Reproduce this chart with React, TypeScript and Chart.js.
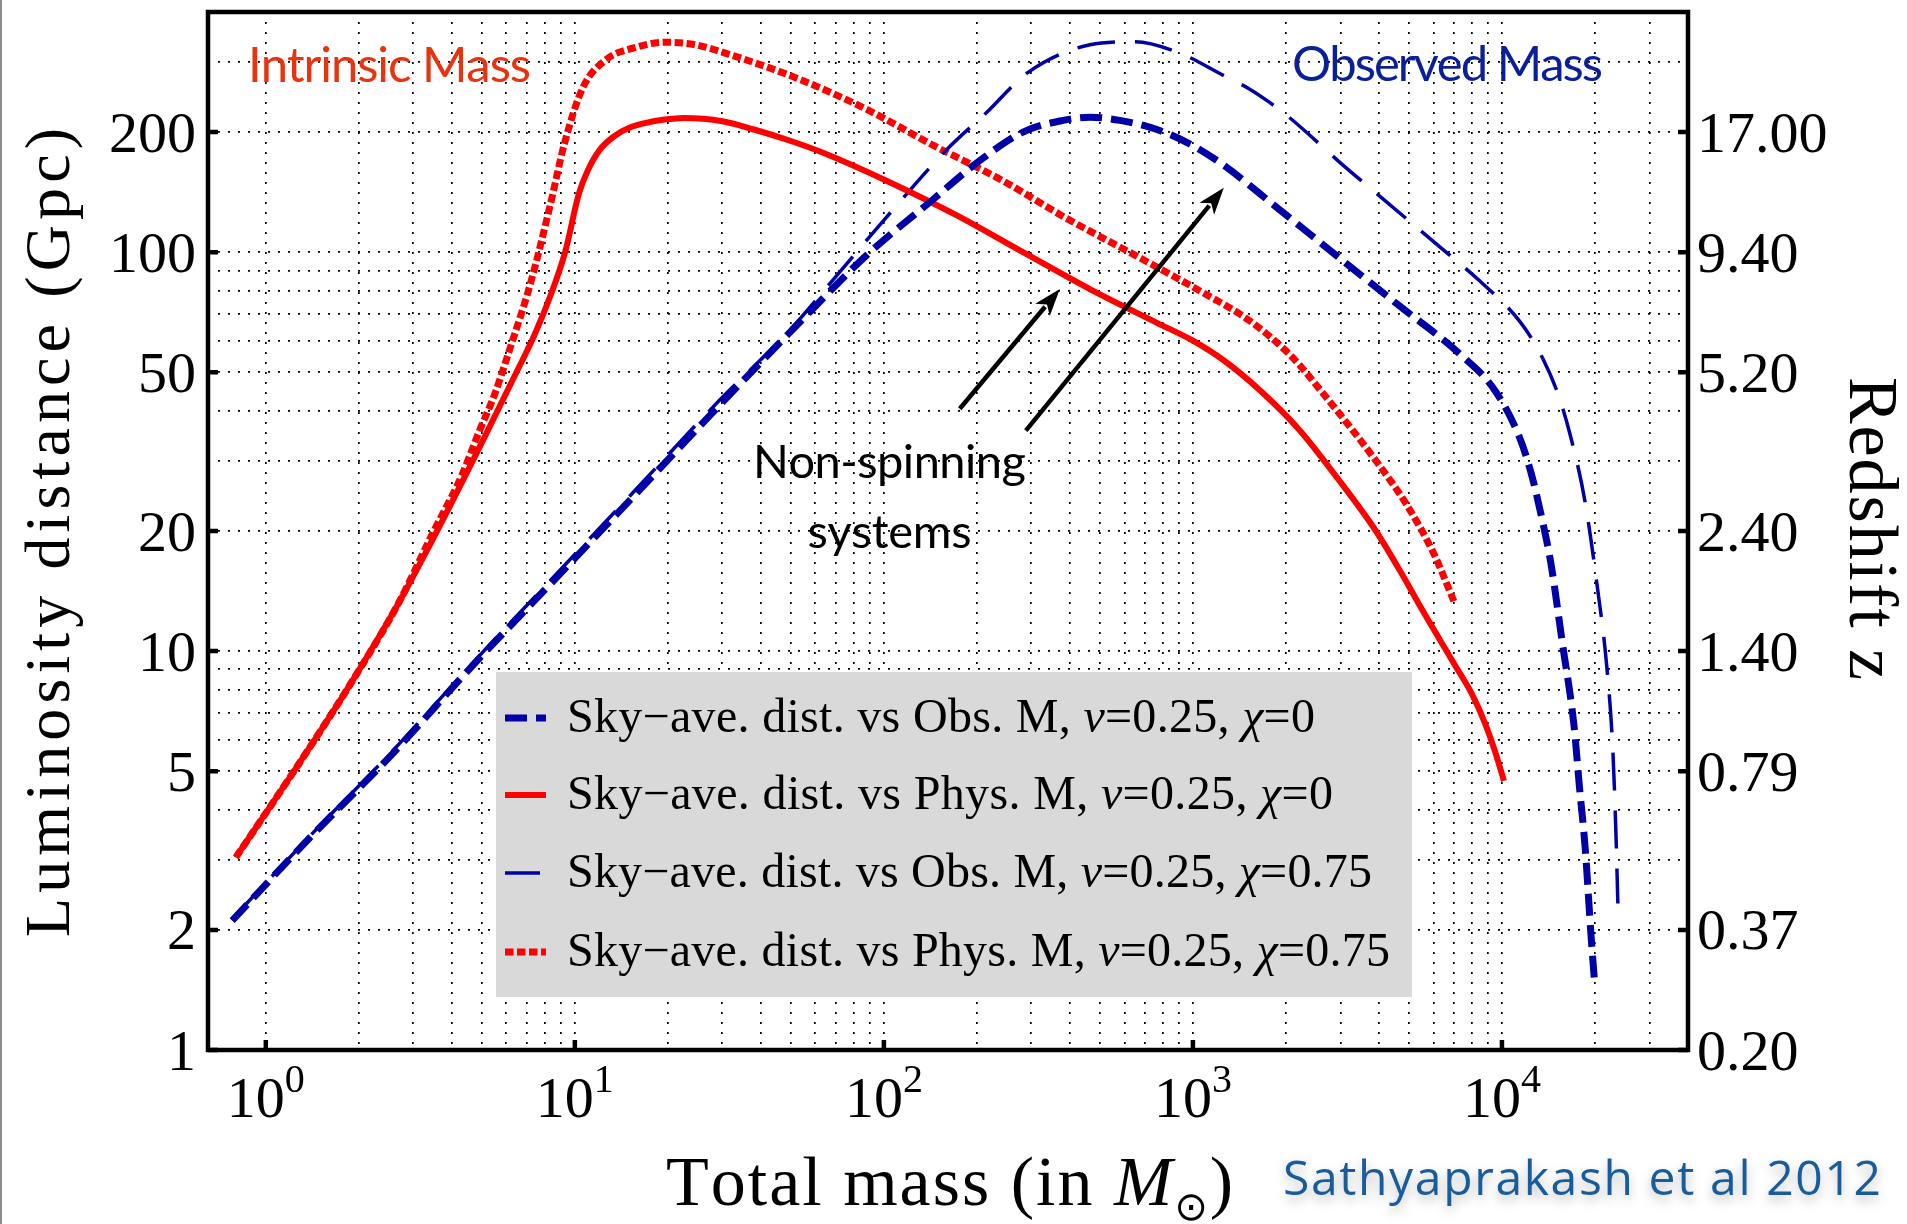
import React, { useEffect, useRef } from "react";
import { Chart, registerables } from "chart.js";

Chart.register(...registerables);

// Sky-averaged luminosity distance (Gpc) against total mass (solar masses), nu = 0.25
// chi = 0, observed (redshifted) mass
const obsMassNonSpin = [0.778, 1.38, 2.56, 4.65, 8.24, 15.3, 28.5, 53.5, 88, 145, 201, 282, 380, 464, 580, 765, 1000, 1260, 1855, 2918, 4590, 7220, 9490, 11370, 12420, 13650, 14420, 15650, 17110, 17800, 18600, 19400, 19950];
const distObsNonSpin = [2.11, 3.39, 5.51, 9.17, 14.6, 24.2, 40.3, 66.8, 98.3, 136, 168, 200, 214, 218, 214, 203, 185, 165, 130, 98, 74, 56, 45, 34.5, 28, 20.5, 16.5, 10.6, 6.5, 4.6, 3.2, 1.96, 1.47];
// chi = 0, physical (intrinsic) mass
const physMassNonSpin = [0.8, 1.28, 1.86, 2.69, 3.63, 5.01, 6.43, 7.4, 8.4, 9.3, 10.3, 11, 12, 13.5, 15, 17, 19.5, 22.5, 30, 38, 50, 63, 104, 171, 282, 464, 765, 1000, 1260, 1650, 2200, 2950, 3910, 4700, 5550, 7000, 8000, 8810, 9500, 10150];
const distPhysNonSpin = [3.04, 5.22, 8.17, 13.2, 20.4, 33.4, 49.5, 62, 79, 100, 140, 160, 180, 196, 205, 211, 215, 217, 213, 203, 190, 178, 150, 124, 100, 80.8, 66.5, 60, 53.5, 45, 36, 27, 20, 15.8, 12.6, 9.3, 7.8, 6.6, 5.6, 4.73];
// chi = 0.75, observed mass
const obsMassSpin = [0.778, 1.38, 2.56, 4.65, 8.24, 15.3, 28.5, 50, 67.4, 100.7, 160, 215, 292, 464, 649, 901, 1260, 1518, 1762, 2075, 3013, 4120, 6210, 8430, 11520, 13580, 15200, 16600, 18570, 20300, 21860, 22860, 23380, 23720];
const distObsSpin = [2.13, 3.42, 5.6, 9.3, 14.9, 24.8, 41.5, 64.2, 84, 121, 181, 224, 282, 331, 337, 316, 277, 257, 238, 216, 167, 136, 104, 85, 66.5, 54, 44, 35, 23.7, 14.7, 9.07, 5.6, 3.49, 2.33];
// chi = 0.75, physical mass
const physMassSpin = [0.8, 1.28, 1.86, 2.69, 3.45, 4.3, 4.9, 5.5, 6.15, 7.2, 8.3, 9.25, 10.6, 12.7, 15.5, 19.5, 24.5, 32.5, 53.5, 88, 145, 239, 394, 649, 1070, 1518, 2075, 2653, 3910, 4930, 6030, 7000];
const distPhysSpin = [3.04, 5.22, 8.17, 13.2, 19.6, 27.5, 35.5, 44, 57, 84, 130, 187, 258, 305, 325, 336, 331, 311, 271, 228, 185, 152, 121, 98.3, 79.4, 67.5, 55, 44, 30, 23.2, 17.5, 13.3];

const seriesLabels = [
  "Sky\u2212ave. dist. vs Obs. M, \u03bd=0.25, \u03c7=0",
  "Sky\u2212ave. dist. vs Phys. M, \u03bd=0.25, \u03c7=0",
  "Sky\u2212ave. dist. vs Obs. M, \u03bd=0.25, \u03c7=0.75",
  "Sky\u2212ave. dist. vs Phys. M, \u03bd=0.25, \u03c7=0.75",
];

// Axis ticks
const distanceTicks = [1, 2, 5, 10, 20, 50, 100, 200];
const distanceTickLabels = ["1", "2", "5", "10", "20", "50", "100", "200"];
const redshiftTickLabels = ["0.20", "0.37", "0.79", "1.40", "2.40", "5.20", "9.40", "17.00"];
const massDecades = [0, 1, 2, 3, 4];

// Annotation arrows, [mass, distance] from tail to head
const arrowTails = [[176, 40.5], [288, 35.7]];
const arrowHeads = [[371, 80.8], [1259, 145]];

const W = 1907;
const H = 1224;
const AREA = { left: 208, top: 12, right: 1688, bottom: 1050 };

const BLUE = "#0000a6";
const RED = "#ff0000";
const SERIF = '"Liberation Serif", "Times New Roman", serif';
const SANS = 'Lato, "Open Sans", sans-serif';

const massGrid: number[] = [];
for (let e = 0; e <= 4; e++) for (let m = 1; m <= 9; m++) { const v = m * Math.pow(10, e); if (v <= 30000) massGrid.push(v); }
const distGrid: number[] = [];
for (let e = 0; e <= 2; e++) for (let m = 1; m <= 9; m++) { const v = m * Math.pow(10, e); if (v > 1 && v < 400) distGrid.push(v); }

type Glyph = { ch: string; font: string; dy?: number };

function glyphs(text: string, font: string, italicFont?: string): Glyph[] {
  return Array.from(text).map((ch) => ({ ch, font: italicFont && /[\u03bd\u03c7]/.test(ch) ? italicFont : font }));
}

// Draws glyph by glyph, spreading the gaps so the run spans `target` pixels.
function drawRun(ctx: CanvasRenderingContext2D, gs: Glyph[], x: number, y: number, target?: number) {
  let sum = 0;
  for (const g of gs) { ctx.font = g.font; sum += ctx.measureText(g.ch).width; }
  const gap = target !== undefined && gs.length > 1 ? (target - sum) / (gs.length - 1) : 0;
  let cx = x;
  for (const g of gs) {
    ctx.font = g.font;
    ctx.fillText(g.ch, cx, y + (g.dy || 0));
    cx += ctx.measureText(g.ch).width + gap;
  }
  return sum + gap * (gs.length - 1);
}

function runWidth(ctx: CanvasRenderingContext2D, gs: Glyph[]) {
  let sum = 0;
  for (const g of gs) { ctx.font = g.font; sum += ctx.measureText(g.ch).width; }
  return sum;
}

function arrow(ctx: CanvasRenderingContext2D, x0: number, y0: number, x1: number, y1: number) {
  const ang = Math.atan2(y1 - y0, x1 - x0);
  const len = 27, half = 9.5;
  const bx = x1 - Math.cos(ang) * len, by = y1 - Math.sin(ang) * len;
  ctx.beginPath();
  ctx.moveTo(x0, y0);
  ctx.lineTo(x1 - Math.cos(ang) * (len - 4), y1 - Math.sin(ang) * (len - 4));
  ctx.stroke();
  ctx.beginPath();
  ctx.moveTo(x1, y1);
  ctx.lineTo(bx - Math.sin(ang) * half, by + Math.cos(ang) * half);
  ctx.lineTo(x1 - Math.cos(ang) * (len - 7), y1 - Math.sin(ang) * (len - 7));
  ctx.lineTo(bx + Math.sin(ang) * half, by - Math.cos(ang) * half);
  ctx.closePath();
  ctx.fill();
}

const decorations = {
  id: "decorations",
  afterDatasetsDraw(chart: any) {
    const { ctx, chartArea: a, scales } = chart;
    const xs = scales.x, ys = scales.y;
    ctx.save();

    // legend panel
    const box = { left: 496, top: 672, right: 1412, bottom: 997 };
    ctx.fillStyle = "#d9d9d9";
    ctx.fillRect(box.left, box.top, box.right - box.left, box.bottom - box.top);
    const rowY = [718, 795, 873, 952];
    const rowW = [748, 766, 805, 823];
    chart.data.datasets.forEach((ds: any, i: number) => {
      ctx.save();
      ctx.strokeStyle = ds.borderColor;
      ctx.lineWidth = ds.borderWidth;
      ctx.setLineDash(ds.borderDash || []);
      ctx.lineCap = "butt";
      ctx.beginPath();
      ctx.moveTo(505, rowY[i]);
      ctx.lineTo(i === 2 ? 540 : 546, rowY[i]);
      ctx.stroke();
      ctx.restore();
      ctx.fillStyle = "#000";
      ctx.textBaseline = "alphabetic";
      ctx.textAlign = "left";
      drawRun(ctx, glyphs(ds.label, `48px ${SERIF}`, `italic 48px ${SERIF}`), 567, rowY[i] + 14, rowW[i]);
    });

    // arrows
    ctx.strokeStyle = "#000";
    ctx.fillStyle = "#000";
    ctx.lineWidth = 4.5;
    arrowTails.forEach((t, i) => {
      const h = arrowHeads[i];
      arrow(ctx, xs.getPixelForValue(t[0]), ys.getPixelForValue(t[1]), xs.getPixelForValue(h[0]), ys.getPixelForValue(h[1]));
    });

    // frame and tick stubs
    ctx.strokeStyle = "#000";
    ctx.lineWidth = 4.5;
    ctx.setLineDash([]);
    ctx.strokeRect(a.left, a.top, a.right - a.left, a.bottom - a.top);
    ctx.beginPath();
    for (const d of distanceTicks) {
      const y = ys.getPixelForValue(d);
      ctx.moveTo(a.left, y); ctx.lineTo(a.left + 10, y);
      ctx.moveTo(a.right - 10, y); ctx.lineTo(a.right, y);
    }
    for (const e of massDecades) {
      const x = xs.getPixelForValue(Math.pow(10, e));
      ctx.moveTo(x, a.bottom); ctx.lineTo(x, a.bottom - 10);
    }
    ctx.stroke();
    ctx.restore();
  },
  afterDraw(chart: any) {
    const { ctx, scales } = chart;
    const xs = scales.x, ys = scales.y;
    ctx.save();
    ctx.textBaseline = "alphabetic";
    ctx.textAlign = "left";

    // page edge
    ctx.fillStyle = "#8c8c8c";
    ctx.fillRect(0, 0, 2, H);
    ctx.fillStyle = "#000";

    // distance ticks (left) and redshift ticks (right)
    ctx.font = `58px ${SERIF}`;
    distanceTicks.forEach((d, i) => {
      const y = ys.getPixelForValue(d) + 19.5;
      ctx.textAlign = "right";
      ctx.fillText(distanceTickLabels[i], 196, y);
      ctx.textAlign = "left";
      ctx.fillText(redshiftTickLabels[i], 1697, y);
    });

    // mass ticks as powers of ten
    for (const e of massDecades) {
      const x = xs.getPixelForValue(Math.pow(10, e));
      const gs: Glyph[] = [
        { ch: "1", font: `58px ${SERIF}` },
        { ch: "0", font: `58px ${SERIF}` },
        { ch: String(e), font: `40px ${SERIF}`, dy: -25 },
      ];
      const w = runWidth(ctx, gs);
      drawRun(ctx, gs, x - w / 2, 1117);
    }

    // axis titles
    ctx.save();
    ctx.translate(69, 937);
    ctx.rotate(-Math.PI / 2);
    drawRun(ctx, glyphs("Luminosity distance (Gpc)", `64px ${SERIF}`), 0, 0, 809);
    ctx.restore();

    ctx.save();
    ctx.translate(1850, 377);
    ctx.rotate(Math.PI / 2);
    drawRun(ctx, glyphs("Redshift z", `70px ${SERIF}`), 0, 0, 303);
    ctx.restore();

    const xTitle: Glyph[] = [
      ...glyphs("Total mass (in ", `70px ${SERIF}`),
      { ch: "M", font: `italic 70px ${SERIF}` },
      { ch: "\u2299", font: `40px "DejaVu Sans", "DejaVu Serif", sans-serif`, dy: 15 },
      { ch: ")", font: `70px ${SERIF}` },
    ];
    drawRun(ctx, xTitle, 666, 1205, 567);

    // annotations
    ctx.fillStyle = "#e8330f";
    drawRun(ctx, glyphs("Intrinsic Mass", `49px ${SANS}`), 248, 82, 283);
    ctx.fillStyle = "#0b1f99";
    drawRun(ctx, glyphs("Observed Mass", `49px ${SANS}`), 1292, 81, 311);
    ctx.fillStyle = "#000";
    drawRun(ctx, glyphs("Non-spinning", `47px ${SANS}`), 753, 478, 273);
    drawRun(ctx, glyphs("systems", `47px ${SANS}`), 807.5, 548, 164);

    ctx.save();
    ctx.shadowColor = "rgba(0,0,0,0.28)";
    ctx.shadowBlur = 12;
    ctx.shadowOffsetY = 5;
    ctx.fillStyle = "#185c9c";
    drawRun(ctx, glyphs("Sathyaprakash et al 2012", `48px "Open Sans", Lato, sans-serif`), 1283, 1195, 598);
    ctx.restore();

    ctx.restore();
  },
};

function points(xv: number[], yv: number[]) {
  return xv.map((x, i) => ({ x, y: yv[i] }));
}

export default function App() {
  const ref = useRef<HTMLCanvasElement>(null);

  useEffect(() => {
    const canvas = ref.current;
    if (!canvas) return;
    const gridOpts = { color: "#000", lineWidth: 1.7, drawTicks: false };
    const chart = new Chart(canvas, {
      type: "line",
      data: {
        datasets: [
          { label: seriesLabels[0], data: points(obsMassNonSpin, distObsNonSpin), borderColor: BLUE, borderWidth: 7, borderDash: [22, 9], borderCapStyle: "butt" },
          { label: seriesLabels[1], data: points(physMassNonSpin, distPhysNonSpin), borderColor: RED, borderWidth: 6, borderCapStyle: "butt" },
          { label: seriesLabels[2], data: points(obsMassSpin, distObsSpin), borderColor: BLUE, borderWidth: 3.5, borderDash: [38, 20], borderCapStyle: "butt" },
          { label: seriesLabels[3], data: points(physMassSpin, distPhysSpin), borderColor: RED, borderWidth: 7, borderDash: [8.5, 3.5], borderCapStyle: "butt" },
        ],
      },
      options: {
        animation: false,
        responsive: false,
        devicePixelRatio: 1,
        layout: { padding: { left: AREA.left, top: AREA.top, right: W - AREA.right, bottom: H - AREA.bottom } },
        elements: { point: { radius: 0 }, line: { cubicInterpolationMode: "monotone", borderJoinStyle: "round" } },
        plugins: { legend: { display: false }, tooltip: { enabled: false }, title: { display: false } },
        scales: {
          x: {
            type: "logarithmic",
            min: 0.65,
            max: 40000,
            ticks: { display: false },
            grid: gridOpts,
            border: { display: false, dash: [2, 8] },
            afterBuildTicks: (s: any) => { s.ticks = massGrid.map((v) => ({ value: v })); },
          },
          y: {
            type: "logarithmic",
            min: 1,
            max: 400,
            ticks: { display: false },
            grid: gridOpts,
            border: { display: false, dash: [2, 8] },
            afterBuildTicks: (s: any) => { s.ticks = distGrid.map((v) => ({ value: v })); },
          },
        },
      } as any,
      plugins: [decorations],
    });
    return () => chart.destroy();
  }, []);

  return (
    <div style={{ position: "absolute", left: 0, top: 0, width: W, height: H, background: "#fff", overflow: "hidden" }}>
      <canvas ref={ref} width={W} height={H} style={{ display: "block", width: W, height: H }} />
    </div>
  );
}
